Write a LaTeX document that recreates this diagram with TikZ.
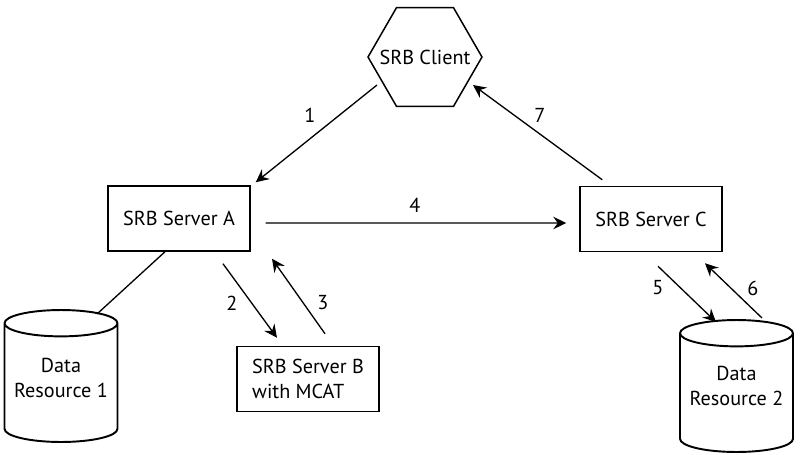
\documentclass[tikz,border=0pt]{standalone}
\usepackage{fontspec}
\setmainfont{PT Sans}
\usetikzlibrary{shapes.geometric, arrows.meta}
\tikzset{
    box/.style={draw, rectangle, line width=0.85pt, minimum width=2.84cm, minimum height=1.3cm, align=left, font=\fontsize{11.5}{14.2}\selectfont},
    db/.style={draw, cylinder, shape border rotate=90, aspect=0.25, line width=1.1pt, minimum width=2.26cm, minimum height=2.64cm, anchor=shape center, font=\fontsize{11.5}{14.2}\selectfont},
    hexa/.style={draw, regular polygon, regular polygon sides=6, line width=0.85pt, minimum size=2.28cm, inner sep=0pt},
    lbl/.style={align=center, font=\fontsize{11.5}{14.2}\selectfont},
    arrow/.style={line width=0.75pt, -{Stealth[length=2.6mm, width=2.5mm, inset=0.9mm]}}
}
\begin{document}
\begin{tikzpicture}[x=0.02cm, y=-0.02cm]
\useasboundingbox (0,0) rectangle (802,454);
\node[hexa] (cli) at (425,57) {};
\node[lbl] (clitxt) at (cli.center) {SRB Client};
\node[box] (srvA) at (179,218.5) {SRB Server A};
\node[box] (srvC) at (651,219) {SRB Server C};
\node[box] (srvB) at (308,379) {SRB Server B\\with MCAT};
% data resources
\node[db] (dr1) at (61,376) {\phantom{Resource 1}};
\node[lbl] (dr1txt) at ([shift={(0,2)}]dr1.shape center) {Data\\Resource 1};
\node[db] (dr2) at (736.5,386) {\phantom{Resource 2}};
\node[lbl] (dr2txt) at (dr2.shape center) {Data\\Resource 2};
% connectors
\draw[arrow] ([shift={(-48,28)}]cli.center) -- ([shift={(5,-3)}]srvA.north east);
\draw[arrow] ([shift={(23,-6)}]srvC.north west) -- ([shift={(48,28)}]cli.center);
\draw[arrow] ([shift={(15,4.5)}]srvA.east) -- ([shift={(-13,4)}]srvC.west);
\draw[line width=0.75pt] ([shift={(-14,0)}]srvA.south) -- ([shift={(36,-62)}]dr1.shape center);
\draw[arrow] ([shift={(44,12)}]srvA.south) -- ([shift={(-31,-8)}]srvB.north);
\draw[arrow] ([shift={(17,-12)}]srvB.north) -- ([shift={(93,7)}]srvA.south);
\draw[arrow] ([shift={(7,14)}]srvC.south) -- ([shift={(-20.5,-64)}]dr2.shape center);
\draw[arrow] ([shift={(25.5,-68)}]dr2.shape center) -- ([shift={(54,11)}]srvC.south);
\node[lbl] (n1) at (310,115) {1};
\node[lbl] (n2) at (232,303) {2};
\node[lbl] (n3) at (323,303) {3};
\node[lbl] (n4) at (415,205) {4};
\node[lbl] (n5) at (658,288) {5};
\node[lbl] (n6) at (753,288) {6};
\node[lbl] (n7) at (540,115) {7};
\end{tikzpicture}
\end{document}
